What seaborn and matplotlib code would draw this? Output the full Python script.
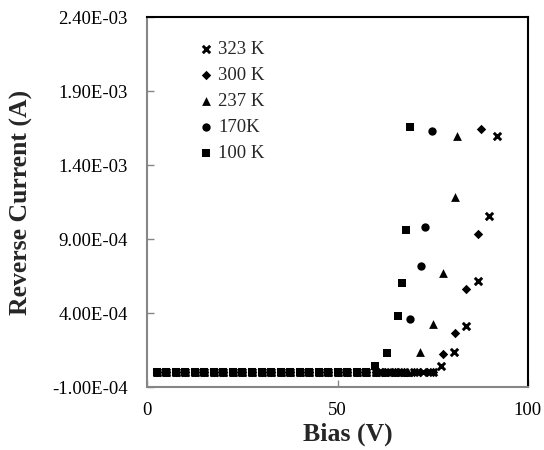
import matplotlib
matplotlib.use("Agg")
import matplotlib.pyplot as plt
import seaborn as sns
import pandas as pd
from matplotlib.ticker import FuncFormatter

# Reverse I-V data at several temperatures (bias in V, current in A)
baseline_bias = [2.5, 5, 7.5, 10, 12.5, 15, 17.5, 20, 22.5, 25, 27.5, 30,
                 32.5, 35, 37.5, 40, 42.5, 45, 47.5, 50, 52.5, 55, 57.5]

bias_323 = [60, 62.5, 65, 67.5, 70, 72.5, 75.0, 77.3, 80.6, 83.9, 87.0, 89.9, 91.9]
curr_323 = [0, 0, 0, 0, 0, 0, 0, 4.4e-5, 1.39e-4, 3.12e-4, 6.16e-4, 1.055e-3, 1.598e-3]

bias_300 = [60, 62.5, 65, 67.5, 70, 71.6, 73.4, 75.0, 77.8, 80.8, 83.9, 87.0, 87.8]
curr_300 = [0, 0, 0, 0, 0, 0, 0, 0, 1.21e-4, 2.67e-4, 5.60e-4, 9.34e-4, 1.641e-3]

bias_237 = [60, 62.5, 65, 67.5, 68.5, 71.8, 75.0, 77.8, 80.8, 81.4]
curr_237 = [0, 0, 0, 0, 0, 1.39e-4, 3.24e-4, 6.72e-4, 1.182e-3, 1.596e-3]

bias_170 = [60, 62.0, 64.0, 66.0, 69.0, 71.9, 72.9, 74.9]
curr_170 = [0, 0, 0, 0, 3.59e-4, 7.18e-4, 9.79e-4, 1.632e-3]

bias_100 = [59.8, 62.9, 65.9, 67.0, 67.9, 69.0]
curr_100 = [4.4e-5, 1.32e-4, 3.82e-4, 6.01e-4, 9.61e-4, 1.655e-3]

labels = ["323 K", "300 K", "237 K", "170K", "100 K"]
x_ticks = [0, 50, 100]
y_ticks = [-1.0e-4, 4.0e-4, 9.0e-4, 1.4e-3, 1.9e-3, 2.4e-3]

series = [
    (labels[0], baseline_bias + bias_323, [0] * len(baseline_bias) + curr_323),
    (labels[1], baseline_bias + bias_300, [0] * len(baseline_bias) + curr_300),
    (labels[2], baseline_bias + bias_237, [0] * len(baseline_bias) + curr_237),
    (labels[3], baseline_bias + bias_170, [0] * len(baseline_bias) + curr_170),
    (labels[4], baseline_bias + bias_100, [0] * len(baseline_bias) + curr_100),
]

sns.set_theme(style="white")
plt.rcParams["font.family"] = ["Liberation Serif", "DejaVu Serif"]

fig = plt.figure(figsize=(5.44, 4.5), dpi=100)
ax = fig.add_axes([0.271, 0.140, 0.699, 0.822])

styles = {
    "323 K": dict(marker="x", s=28, linewidths=2.1),
    "300 K": dict(marker="D", s=23, linewidths=0),
    "237 K": dict(marker="^", s=40, linewidths=0),
    "170K": dict(marker="o", s=36, linewidths=0),
    "100 K": dict(marker="s", s=30, linewidths=0),
}

for name, xs, ys in series:
    df = pd.DataFrame({"Bias": xs, "Current": ys})
    sns.scatterplot(data=df, x="Bias", y="Current", color="black",
                    label=name, ax=ax, zorder=3, **styles[name])

ax.set_xlim(0, 100)
ax.set_ylim(-1.0e-4, 2.4e-3)
ax.set_xticks(x_ticks)
ax.set_yticks(y_ticks)
ax.yaxis.set_major_formatter(FuncFormatter(lambda v, p: f"{v:.2E}"))

ax.tick_params(axis="both", direction="in", length=5, width=1,
               colors="#868686", labelcolor="black", labelsize=13.5)
ax.tick_params(axis="y", pad=14)
ax.tick_params(axis="x", pad=11)
ax.tick_params(top=False, right=False, left=True, bottom=True)

for side in ["left", "bottom"]:
    ax.spines[side].set_color("#868686")
    ax.spines[side].set_linewidth(1.5)
for side in ["top", "right"]:
    ax.spines[side].set_color("black")
    ax.spines[side].set_linewidth(1.5)
    ax.spines[side].set_visible(True)

ax.set_xlabel("Bias (V)", fontsize=18.5, fontweight="bold")
ax.xaxis.set_label_coords(0.527, -0.097)
ax.set_ylabel("Reverse Current (A)", fontsize=18.5, fontweight="bold", labelpad=14)

leg = ax.legend(loc="upper left", bbox_to_anchor=(0.11, 0.955), frameon=False,
                fontsize=13.5, handlelength=1.0, handletextpad=0.15,
                labelspacing=0.47, borderaxespad=0.0)

fig.savefig("out.png", dpi=100)
